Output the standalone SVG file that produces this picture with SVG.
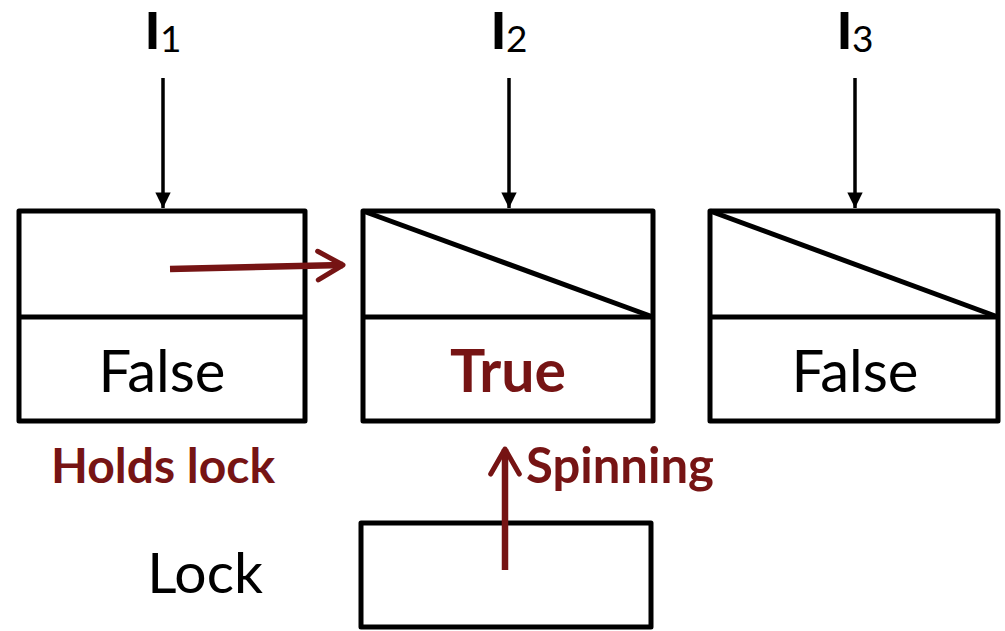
<svg xmlns="http://www.w3.org/2000/svg" width="1005" height="631" viewBox="0 0 1005 631">
<defs>
<marker id="ah" viewBox="0 0 10 10" refX="10" refY="5" markerWidth="4.6" markerHeight="4.4" orient="auto" markerUnits="strokeWidth">
<path d="M0,0 L10,5 L0,10 Z" fill="#000"/>
</marker>
<marker id="rh" viewBox="0 0 10 10" refX="8.5" refY="5" markerWidth="5.5" markerHeight="5.5" orient="auto" markerUnits="strokeWidth">
<path d="M1.5,1 L8.5,5 L1.5,9" fill="none" stroke="#761414" stroke-width="1.4" stroke-linecap="round" stroke-linejoin="round"/>
</marker>
</defs>
<style>
.box{fill:#fff;stroke:#000;stroke-width:5;stroke-linejoin:round}
.ln{stroke:#000;stroke-width:5;fill:none}
.lab{font-family:Lato,"Liberation Sans",sans-serif;fill:#000}
.ii{font-family:"Liberation Sans",Arial,sans-serif;font-weight:bold;font-size:54px;fill:#000}
.sub{font-family:Lato,"Liberation Sans",sans-serif;font-weight:normal;font-size:37px}
.red{font-family:Lato,"Liberation Sans",sans-serif;font-weight:bold;fill:#761414}
.conn{stroke:#000;stroke-width:3.5;fill:none}
.rconn{stroke:#761414;stroke-width:6.5;fill:none}
</style>
<g id="label-I1"><text class="ii" x="145" y="49">I<tspan class="sub" dy="3">1</tspan></text></g>
<g id="label-I2"><text class="ii" x="491" y="49">I<tspan class="sub" dy="3">2</tspan></text></g>
<g id="label-I3"><text class="ii" x="837" y="49">I<tspan class="sub" dy="3">3</tspan></text></g>
<g id="node1">
<rect class="box" x="19" y="211" width="286" height="210"/>
<line class="ln" x1="19" y1="317" x2="305" y2="317"/>
<text class="lab" x="162" y="392" font-size="58" text-anchor="middle">False</text>
</g>
<g id="node2">
<rect class="box" x="363" y="211" width="290" height="210"/>
<line class="ln" x1="363" y1="317" x2="653" y2="317"/>
<line class="ln" x1="363" y1="211" x2="653" y2="317"/>
<text class="red" x="508" y="392" font-size="59" text-anchor="middle">True</text>
</g>
<g id="node3">
<rect class="box" x="710" y="211" width="288" height="210"/>
<line class="ln" x1="710" y1="317" x2="998" y2="317"/>
<line class="ln" x1="710" y1="211" x2="998" y2="317"/>
<text class="lab" x="855" y="392" font-size="58" text-anchor="middle">False</text>
</g>
<g id="lock">
<text class="lab" x="205" y="593" font-size="57" text-anchor="middle">Lock</text>
<rect class="box" x="361" y="523" width="290" height="104"/>
</g>
<g id="label-holds"><text class="red" x="51" y="483" font-size="48">Holds lock</text></g>
<g id="label-spinning"><text class="red" x="526" y="483" font-size="49">Spinning</text></g>
<g id="connectors">
<line class="conn" x1="163" y1="78" x2="163" y2="208" marker-end="url(#ah)"/>
<line class="conn" x1="509" y1="78" x2="509" y2="208" marker-end="url(#ah)"/>
<line class="conn" x1="855" y1="78" x2="855" y2="208" marker-end="url(#ah)"/>
<line class="rconn" x1="170" y1="269" x2="343" y2="265" marker-end="url(#rh)"/>
<line class="rconn" x1="505" y1="570" x2="505" y2="449" marker-end="url(#rh)"/>
</g>
</svg>
